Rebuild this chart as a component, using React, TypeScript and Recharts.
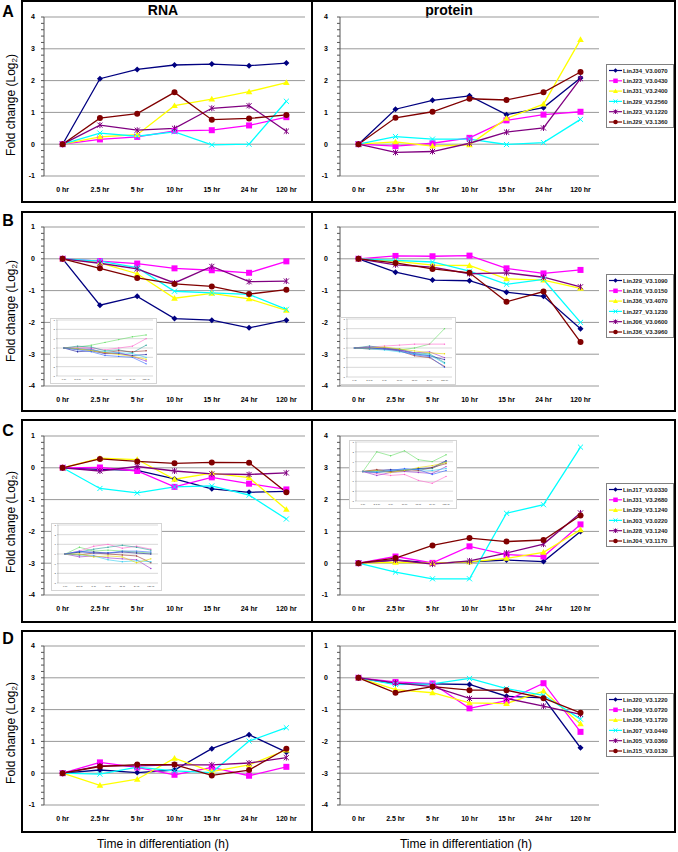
import React from "react";
import { ComposedChart, Line, XAxis, YAxis, CartesianGrid } from "recharts";

const times = ["0 hr", "2.5 hr", "5 hr", "10 hr", "15 hr", "24 hr", "120 hr"];

// A: up-regulated RNA / protein
const aGenes = ["LinJ34_V3.0070", "LinJ23_V3.0430", "LinJ31_V3.2400", "LinJ29_V3.2560", "LinJ23_V3.1220", "LinJ29_V3.1360"];
const aRna1 = [0, 2.06, 2.35, 2.49, 2.52, 2.47, 2.55];
const aRna2 = [0, 0.15, 0.23, 0.42, 0.44, 0.59, 0.85];
const aRna3 = [0, 0.23, 0.3, 1.21, 1.42, 1.65, 1.94];
const aRna4 = [0, 0.35, 0.25, 0.39, -0.02, 0.0, 1.35];
const aRna5 = [0, 0.6, 0.44, 0.5, 1.13, 1.21, 0.41];
const aRna6 = [0, 0.82, 0.96, 1.63, 0.77, 0.81, 0.92];
const aProt1 = [0, 1.1, 1.38, 1.52, 0.93, 1.15, 2.08];
const aProt2 = [0, -0.06, 0.03, 0.2, 0.75, 0.93, 1.02];
const aProt3 = [0, 0.07, -0.06, -0.02, 0.81, 1.26, 3.29];
const aProt4 = [0, 0.24, 0.16, 0.16, -0.01, 0.05, 0.78];
const aProt5 = [0, -0.26, -0.23, 0.03, 0.38, 0.51, 2.06];
const aProt6 = [0, 0.83, 1.02, 1.43, 1.39, 1.63, 2.27];

// B: down-regulated
const bGenes = ["LinJ29_V3.1090", "LinJ16_V3.0150", "LinJ36_V3.4070", "LinJ27_V3.1230", "LinJ06_V3.0600", "LinJ36_V3.3960"];
const bRna1 = [0, -1.46, -1.18, -1.88, -1.93, -2.17, -1.93];
const bRna2 = [0, -0.07, -0.15, -0.3, -0.36, -0.44, -0.08];
const bRna3 = [0, -0.13, -0.47, -1.24, -1.09, -1.26, -1.62];
const bRna4 = [0, -0.07, -0.28, -1.02, -1.07, -1.12, -1.59];
const bRna5 = [0, -0.14, -0.32, -0.76, -0.24, -0.72, -0.7];
const bRna6 = [0, -0.3, -0.6, -0.79, -0.87, -1.11, -0.97];
const bProt1 = [0, -0.42, -0.67, -0.69, -1.05, -1.18, -2.2];
const bProt2 = [0, 0.09, 0.08, 0.1, -0.3, -0.46, -0.35];
const bProt3 = [0, -0.07, -0.2, -0.21, -0.63, -0.67, -0.93];
const bProt4 = [0, -0.05, -0.1, -0.39, -0.8, -0.65, -2.0];
const bProt5 = [0, -0.19, -0.26, -0.47, -0.44, -0.58, -0.88];
const bProt6 = [0, -0.13, -0.32, -0.44, -1.35, -1.03, -2.62];

// C: RNA down, protein up
const cGenes = ["LinJ17_V3.0330", "LinJ31_V3.2680", "LinJ29_V3.1240", "LinJ03_V3.0220", "LinJ28_V3.1240", "LinJ04_V3.1170"];
const cRna1 = [0, -0.05, -0.08, -0.35, -0.66, -0.77, -0.74];
const cRna2 = [0, 0.01, -0.1, -0.6, -0.3, -0.5, -0.68];
const cRna3 = [0, 0.3, 0.26, -0.36, -0.17, -0.31, -1.31];
const cRna4 = [0, -0.65, -0.79, -0.6, -0.57, -0.86, -1.61];
const cRna5 = [0, -0.1, 0.04, -0.1, -0.19, -0.21, -0.16];
const cRna6 = [0, 0.28, 0.2, 0.14, 0.17, 0.16, -0.77];
const cProt1 = [0, 0.1, 0, 0.04, 0.1, 0.05, 1.0];
const cProt2 = [0, 0.21, 0.01, 0.53, 0.27, 0.21, 1.22];
const cProt3 = [0, 0.03, 0, 0.04, 0.15, 0.34, 1.05];
const cProt4 = [0, -0.28, -0.49, -0.49, 1.57, 1.84, 3.65];
const cProt5 = [0, 0.1, -0.03, 0.07, 0.32, 0.6, 1.58];
const cProt6 = [0, 0.16, 0.56, 0.79, 0.68, 0.73, 1.5];

// D: RNA up, protein down
const dGenes = ["LinJ20_V3.1220", "LinJ09_V3.0720", "LinJ36_V3.1720", "LinJ07_V3.0440", "LinJ05_V3.0360", "LinJ15_V3.0130"];
const dRna1 = [0, 0.1, 0.02, 0.1, 0.77, 1.21, 0.66];
const dRna2 = [0, 0.34, 0.18, -0.05, 0.18, -0.08, 0.2];
const dRna3 = [0, -0.38, -0.19, 0.47, 0.05, 0.26, 0.73];
const dRna4 = [0, -0.03, 0.19, 0.07, 0.02, 1.01, 1.43];
const dRna5 = [0, 0.23, 0.23, 0.26, 0.26, 0.32, 0.49];
const dRna6 = [0, 0.21, 0.27, 0.27, -0.07, 0.1, 0.77];
const dProt1 = [0, -0.19, -0.19, -0.21, -0.58, -0.63, -2.2];
const dProt2 = [0, -0.13, -0.18, -0.96, -0.72, -0.17, -1.7];
const dProt3 = [0, -0.37, -0.47, -0.79, -0.81, -0.42, -1.45];
const dProt4 = [0, -0.21, -0.19, -0.02, -0.34, -0.55, -1.3];
const dProt5 = [0, -0.16, -0.28, -0.65, -0.65, -0.89, -1.15];
const dProt6 = [0, -0.47, -0.28, -0.39, -0.39, -0.64, -1.1];

// small overview insets (whole clusters)
const insBRna = [
  [0, 0.1, 0.3, 0.6, 0.9, 1.2, 1.4],
  [0, 0.1, 0, -0.2, 0, 0.2, 1.0],
  [0, 0.2, 0.1, -0.3, -0.2, -0.5, 0.3],
  [0, -0.4, -0.3, -0.6, -0.6, -0.8, -0.7],
  [0, -0.1, -0.2, -0.5, -0.3, -0.4, -0.3],
  [0, -0.1, -0.1, -0.6, -0.5, -0.9, -1.4],
  [0, -0.1, -0.2, -0.4, -0.5, -0.6, -1.0],
  [0, -0.1, -0.3, -0.5, -0.7, -0.9, -1.2],
  [0, -0.2, -0.4, -0.8, -0.9, -1.0, -1.7],
];
const insBProt = [
  [0, 0, 0, -0.2, 0, 0.4, 2.0],
  [0, 0.1, 0.2, 0.3, 0.4, 0.4, 0.4],
  [0, 0.2, 0, -0.1, -0.5, -0.6, -1.5],
  [0, 0, -0.1, -0.2, -0.6, -0.8, -1.2],
  [0, -0.1, -0.1, -0.3, -0.8, -1.0, -1.9],
  [0, 0.1, 0, -0.2, -0.5, -0.4, -1.0],
  [0, -0.1, -0.2, -0.4, -0.6, -0.7, -1.6],
  [0, 0, 0.1, -0.1, -0.3, -0.5, -0.6],
  [0, 0, -0.1, -0.3, -0.7, -0.9, -2.0],
];
const insCRna = [
  [0, 0.7, 0.3, 0.4, 0.3, 0.2, 0.1],
  [0, 0.3, 0.8, 1.0, 0.6, 0.8, 0.5],
  [0, 0.2, 0.5, 0.7, 0.9, 0.7, 0.4],
  [0, 0.2, 0.2, 0.1, 0.2, 0.1, 0.0],
  [0, -0.1, 0.1, 0, -0.1, -0.2, -0.9],
  [0, -0.3, -0.2, -0.4, -0.5, -0.6, -1.5],
  [0, -0.1, -0.2, -0.6, -0.8, -0.7, -0.8],
  [0, 0, -0.3, -0.2, -0.3, -0.9, -0.5],
  [0, 0.3, 0.1, 0.1, 0.3, 0.3, 0.2],
];
const insCProt = [
  [0, 2.0, 1.6, 2.1, 1.2, 1.0, 1.7],
  [0, -0.2, -0.4, -0.3, -0.9, -1.2, -0.5],
  [0, -0.1, 0, 0.1, 0.3, 0.3, 1.0],
  [0, 0.1, 0.2, 0.1, 0.3, 0.4, 1.1],
  [0, 0.2, 0, 0.2, 0.1, 0.4, 0.8],
  [0, -0.4, -0.1, 0, -0.1, -0.2, 0.5],
  [0, 0, 0.1, 0.2, 0.2, 0.1, 0.3],
  [0, 0.1, -0.1, 0.1, 0.4, 0.6, 0.9],
  [0, -0.1, 0.1, 0.3, 0.2, -0.3, 0.1],
];

const seriesColors = ["#000080", "#FF00FF", "#FFFF00", "#00FFFF", "#800080", "#800000"];
const markerShapes = ["diamond", "square", "triangle", "x", "star", "circle"];
const insetColors = ["#66dd66", "#ff66cc", "#2aa198", "#1a1a99", "#993333", "#9933cc", "#33ccee", "#e6d800", "#3366ff"];

const FONT = "Arial, 'Liberation Sans', Helvetica, sans-serif";

const buildRows = (series: number[][]) =>
  times.map((t, i) => {
    const row: any = { t };
    series.forEach((s, k) => (row[`s${k}`] = s[i]));
    return row;
  });

function Marker({ cx, cy, shape, color, s = 1 }: any) {
  if (cx == null || cy == null) return <g />;
  const d = 3 * s;
  switch (shape) {
    case "diamond":
      return <path d={`M${cx},${cy - d} L${cx + d},${cy} L${cx},${cy + d} L${cx - d},${cy} Z`} fill={color} />;
    case "square":
      return <rect x={cx - d} y={cy - d} width={2 * d} height={2 * d} fill={color} />;
    case "triangle":
      return <path d={`M${cx},${cy - d * 1.1} L${cx + d * 1.1},${cy + d * 0.8} L${cx - d * 1.1},${cy + d * 0.8} Z`} fill={color} />;
    case "x":
      return (
        <path
          d={`M${cx - d * 0.85},${cy - d * 0.85} L${cx + d * 0.85},${cy + d * 0.85} M${cx - d * 0.85},${cy + d * 0.85} L${cx + d * 0.85},${cy - d * 0.85}`}
          stroke={color}
          strokeWidth={1}
        />
      );
    case "star":
      return (
        <path
          d={`M${cx - d * 0.85},${cy - d * 0.85} L${cx + d * 0.85},${cy + d * 0.85} M${cx - d * 0.85},${cy + d * 0.85} L${cx + d * 0.85},${cy - d * 0.85} M${cx},${cy - d} L${cx},${cy + d}`}
          stroke={color}
          strokeWidth={1}
        />
      );
    default:
      return <circle cx={cx} cy={cy} r={d} fill={color} />;
  }
}

function TimeChart({ left, plotTop, side, domain, series }: any) {
  const isLeft = side === "left";
  const width = isLeft ? 290 : 292;
  const yWidth = isLeft ? 22 : 28;
  const mRight = isLeft ? 7 : 5;
  // Excel-style category axis: points sit in the middle of each band
  const pad = (width - yWidth - mRight) / (times.length * 2);
  const ticks: number[] = [];
  for (let v = domain[0]; v <= domain[1] + 1e-9; v += 0.2) ticks.push(Math.round(v * 10) / 10);
  const grid: number[] = [];
  for (let v = domain[0]; v <= domain[1]; v++) grid.push(v);
  const tickStyle = { fontSize: 7, fontWeight: "bold", fill: "#000", fontFamily: FONT };

  return (
    <div style={{ position: "absolute", left, top: plotTop - 10 }}>
      <ComposedChart width={width} height={191} data={buildRows(series)} margin={{ top: 10, right: mRight, left: 0, bottom: 0 }}>
        <CartesianGrid vertical={false} horizontalValues={grid} stroke="#999" />
        <XAxis
          dataKey="t"
          interval={0}
          padding={{ left: pad, right: pad }}
          tickLine={false}
          axisLine={false}
          height={22}
          tickSize={0}
          tickMargin={11}
          tick={tickStyle}
        />
        <YAxis
          type="number"
          domain={domain}
          ticks={ticks}
          interval={0}
          width={yWidth}
          tickSize={3}
          tickMargin={isLeft ? 6 : 9}
          axisLine={{ stroke: "#555" }}
          tickLine={{ stroke: "#555" }}
          tick={tickStyle}
          tickFormatter={(v: number) => (Math.abs(v - Math.round(v)) < 1e-6 ? String(Math.round(v)) : "")}
          allowDataOverflow
        />
        <YAxis yAxisId="r" orientation="right" width={0} type="number" domain={domain} tick={false} tickLine={false} axisLine={{ stroke: "#c8c8c8" }} />
        {series.map((_: number[], k: number) => (
          <Line
            key={k}
            dataKey={`s${k}`}
            stroke={seriesColors[k]}
            strokeWidth={1.3}
            isAnimationActive={false}
            activeDot={false}
            dot={(p: any) => <Marker key={`m${k}-${p.index}`} cx={p.cx} cy={p.cy} shape={markerShapes[k]} color={seriesColors[k]} />}
          />
        ))}
      </ComposedChart>
    </div>
  );
}

function Inset({ left, top, width, height, series }: any) {
  const levels = [-3, -2, -1, 0, 1, 2, 3];
  const pad = (width - 2 - 6 - 3) / (times.length * 2);
  return (
    <div
      style={{
        position: "absolute",
        left,
        top,
        width,
        height,
        background: "#fff",
        border: "1px solid #d4d4d4",
        boxSizing: "border-box",
      }}
    >
      <ComposedChart width={width - 2} height={height - 2} data={buildRows(series)} margin={{ top: 1, right: 3, left: 0, bottom: 0 }}>
        <CartesianGrid vertical={false} horizontalValues={levels} stroke="#c0c0c0" strokeWidth={0.6} />
        <XAxis
          dataKey="t"
          interval={0}
          padding={{ left: pad, right: pad }}
          tickLine={false}
          axisLine={false}
          height={7}
          tickSize={0}
          tickMargin={2}
          tick={{ fontSize: 2.5, fill: "#444", fontFamily: FONT }}
        />
        <YAxis
          type="number"
          domain={[-3, 3]}
          ticks={levels}
          interval={0}
          width={6}
          tickSize={1}
          tickMargin={1}
          tick={{ fontSize: 2.5, fill: "#444", fontFamily: FONT }}
          axisLine={{ stroke: "#999", strokeWidth: 0.5 }}
          tickLine={{ stroke: "#999", strokeWidth: 0.5 }}
        />
        {series.map((_: number[], k: number) => (
          <Line
            key={k}
            dataKey={`s${k}`}
            stroke={insetColors[k % insetColors.length]}
            strokeWidth={0.6}
            isAnimationActive={false}
            activeDot={false}
            dot={{ r: 0.7, fill: insetColors[k % insetColors.length], stroke: "none" }}
          />
        ))}
      </ComposedChart>
    </div>
  );
}

function LegendBox({ top, names }: any) {
  return (
    <svg width={68} height={64} style={{ position: "absolute", left: 606, top }}>
      <rect x={0.5} y={0.5} width={67} height={63} fill="#fff" stroke="#808080" />
      {names.map((n: string, i: number) => {
        const y = 6.5 + i * 10.3;
        return (
          <g key={n + i}>
            <line x1={3} x2={16} y1={y} y2={y} stroke={seriesColors[i]} strokeWidth={1.2} />
            <Marker cx={9.5} cy={y} shape={markerShapes[i]} color={seriesColors[i]} s={0.75} />
            <text x={17} y={y} dy="0.35em" fontSize={6} fontWeight="bold" fontFamily={FONT} fill="#222">
              {n}
            </text>
          </g>
        );
      })}
    </svg>
  );
}

const panels = [
  { letter: "A", boxTop: 0, boxBottom: 203, plotTop: 17, letterY: 11, labelY: 105, rna: [aRna1, aRna2, aRna3, aRna4, aRna5, aRna6], prot: [aProt1, aProt2, aProt3, aProt4, aProt5, aProt6], rnaDom: [-1, 4], protDom: [-1, 4], genes: aGenes },
  { letter: "B", boxTop: 211, boxBottom: 412, plotTop: 227, letterY: 220, labelY: 311, rna: [bRna1, bRna2, bRna3, bRna4, bRna5, bRna6], prot: [bProt1, bProt2, bProt3, bProt4, bProt5, bProt6], rnaDom: [-4, 1], protDom: [-4, 1], genes: bGenes },
  { letter: "C", boxTop: 419, boxBottom: 623, plotTop: 436, letterY: 430, labelY: 522, rna: [cRna1, cRna2, cRna3, cRna4, cRna5, cRna6], prot: [cProt1, cProt2, cProt3, cProt4, cProt5, cProt6], rnaDom: [-4, 1], protDom: [-1, 4], genes: cGenes },
  { letter: "D", boxTop: 630, boxBottom: 833, plotTop: 646, letterY: 638, labelY: 733, rna: [dRna1, dRna2, dRna3, dRna4, dRna5, dRna6], prot: [dProt1, dProt2, dProt3, dProt4, dProt5, dProt6], rnaDom: [-1, 4], protDom: [-4, 1], genes: dGenes },
];

export default function App() {
  return (
    <div style={{ position: "absolute", left: 0, top: 0, width: 678, height: 852, background: "#fff", fontFamily: FONT, overflow: "hidden" }}>
      <svg width={678} height={852} style={{ position: "absolute", left: 0, top: 0 }}>
        {panels.map((p) => (
          <g key={p.letter}>
            <rect x={22} y={p.boxTop + 1} width={653} height={p.boxBottom - p.boxTop - 2} fill="none" stroke="#000" strokeWidth={2} />
            <line x1={312} x2={312} y1={p.boxTop} y2={p.boxBottom} stroke="#000" strokeWidth={2} />
            <text x={8} y={p.letterY} dominantBaseline="central" textAnchor="middle" fontSize={16} fontWeight="bold" fontFamily={FONT}>
              {p.letter}
            </text>
            <text transform={`translate(11, ${p.labelY}) rotate(-90)`} textAnchor="middle" dominantBaseline="central" fontSize={12} fontFamily={FONT}>
              <tspan>Fold change (Log</tspan>
              <tspan fontSize={8} dy={3}>2</tspan>
              <tspan dy={-3}>)</tspan>
            </text>
          </g>
        ))}
        <text x={163} y={10} textAnchor="middle" dominantBaseline="central" fontSize={14} fontWeight="bold" fontFamily={FONT}>RNA</text>
        <text x={449} y={10} textAnchor="middle" dominantBaseline="central" fontSize={14} fontWeight="bold" fontFamily={FONT}>protein</text>
        <text x={163} y={844} textAnchor="middle" dominantBaseline="central" fontSize={12} fontFamily={FONT}>Time in differentiation (h)</text>
        <text x={466} y={844} textAnchor="middle" dominantBaseline="central" fontSize={12} fontFamily={FONT}>Time in differentiation (h)</text>
      </svg>

      {panels.map((p) => (
        <React.Fragment key={p.letter}>
          <TimeChart left={22} plotTop={p.plotTop} side="left" domain={p.rnaDom} series={p.rna} />
          <TimeChart left={312} plotTop={p.plotTop} side="right" domain={p.protDom} series={p.prot} />
        </React.Fragment>
      ))}

      <Inset left={50} top={318} width={107} height={66} series={insBRna} />
      <Inset left={340} top={317} width={116} height={68} series={insBProt} />
      <Inset left={51} top={523} width={111} height={68} series={insCRna} />
      <Inset left={349} top={440} width={108} height={69} series={insCProt} />

      {panels.map((p) => (
        <LegendBox key={p.letter} top={p.plotTop + 47} names={p.genes} />
      ))}
    </div>
  );
}
